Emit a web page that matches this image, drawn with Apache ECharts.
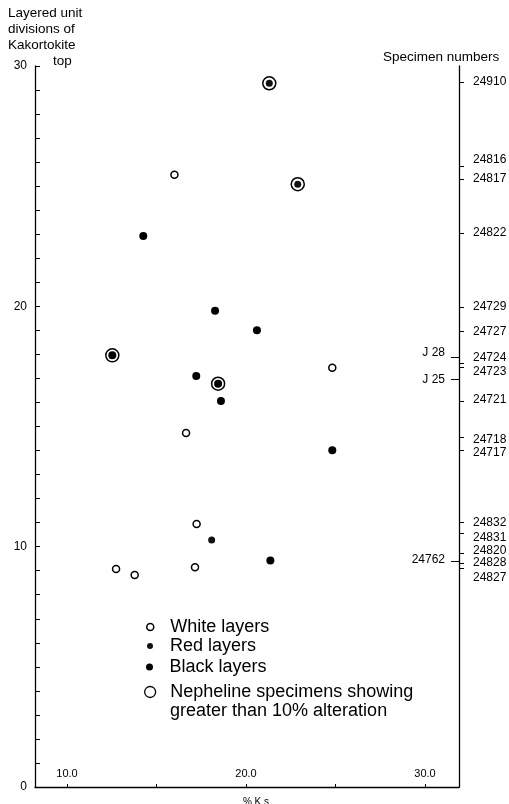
<!DOCTYPE html>
<html>
<head>
<meta charset="utf-8">
<script src="https://cdn.jsdelivr.net/npm/echarts@6/dist/echarts.min.js"></script>
<style>
  html, body { margin: 0; padding: 0; background: #fff; }
  #chart { width: 509px; height: 804px; }
</style>
</head>
<body>
<div id="chart"></div>
<script>
// points are [%Ks, layered unit division]
const whiteLayers = [[16.0, 25.48], [24.82, 17.44], [16.65, 14.73], [17.24, 10.94], [12.74, 9.07], [13.78, 8.82], [17.15, 9.14]]
const redLayers = [[18.08, 10.28], [21.3, 29.28], [22.89, 25.08]]
const blackLayers = [[14.26, 22.93], [18.27, 19.82], [20.61, 19.0], [17.22, 17.1], [18.6, 16.06], [24.82, 14.01], [21.36, 9.42], [12.53, 17.96], [18.44, 16.78]]
const nephelineAltered = [[21.3, 29.28], [22.89, 25.08], [12.53, 17.96], [18.44, 16.78]]

const leftLabels = [0, 10, 20, 30]
const xLabels = [10, 20, 30]
const xTicks = [10, 15, 20, 25, 30]

// specimen numbers on the right hand axis
const specimenNames = ['24910', '24816', '24817', '24822', '24729', '24727', '24724', '24723', '24721', '24718', '24717', '24832', '24831', '24820', '24828', '24827']
const specimenAt = [29.34, 26.09, 25.3, 23.05, 19.98, 18.95, 17.85, 17.27, 16.1, 14.44, 13.91, 10.99, 10.36, 9.82, 9.33, 8.71]
const specimenTicks = [29.34, 25.84, 25.3, 23.05, 19.95, 18.95, 17.64, 17.48, 16.06, 14.55, 14.01, 11.02, 10.56, 9.73, 9.33, 9.1]
const innerNames = ['J 28', 'J 25', '24762']
const innerAt = [18.07, 16.94, 9.45]
const innerTicks = [17.88, 16.98, 9.4]

const nephelineName = 'Nepheline specimens showing\ngreater than 10% alteration'

const font = 'Liberation Sans, Arial, sans-serif'
const ink = '#000'

const chart = echarts.init(document.getElementById('chart'), null, { renderer: 'canvas' })

function legendBox(name, left, top, size, style) {
  return {
    show: true,
    data: [{ name: name, icon: 'circle' }],
    left: left,
    top: top,
    padding: 0,
    itemWidth: 30,
    itemHeight: size,
    selectedMode: false,
    itemStyle: style,
    // only the first line sits beside the icon, the second one is drawn below
    formatter: n => n.split('\n')[0],
    textStyle: { fontFamily: font, fontSize: 18, color: ink, lineHeight: 20 }
  }
}

const option = {
  animation: false,
  backgroundColor: '#fff',
  textStyle: { fontFamily: font },
  grid: {
    left: 35,
    right: 50,
    top: 66,
    bottom: 17,
    containLabel: false,
    outerBoundsMode: 'none'
  },
  legend: [
    legendBox('White layers', 146, 617, 7, { color: '#fff', borderColor: ink, borderWidth: 1.5 }),
    legendBox('Red layers', 147, 636, 6, { color: '#111', borderColor: ink, borderWidth: 0 }),
    legendBox('Black layers', 146, 657, 7, { color: ink, borderColor: ink, borderWidth: 0 }),
    legendBox(nephelineName, 144, 682, 11, { color: 'rgba(0,0,0,0)', borderColor: ink, borderWidth: 1.3 })
  ],
  xAxis: {
    type: 'value',
    min: 8.21,
    max: 31.9,
    name: '% K s',
    nameLocation: 'middle',
    nameGap: 10,
    nameTextStyle: { fontSize: 10, color: ink, padding: [0, 0, 0, 18] },
    axisLine: { onZero: false, lineStyle: { color: ink, width: 1.3 } },
    axisTick: { customValues: xTicks, inside: true, length: 3, lineStyle: { color: ink } },
    axisLabel: {
      customValues: xLabels,
      inside: true,
      margin: 8,
      fontSize: 11,
      color: ink,
      formatter: v => v.toFixed(1)
    },
    splitLine: { show: false }
  },
  yAxis: [
    {
      type: 'value',
      min: 0,
      max: 30,
      interval: 1,
      axisLine: { show: true, lineStyle: { color: ink, width: 1.3 } },
      axisTick: { show: true, inside: true, length: 5, lineStyle: { color: ink } },
      axisLabel: { customValues: leftLabels, margin: 8, fontSize: 12, color: ink },
      splitLine: { show: false }
    },
    {
      type: 'value',
      position: 'right',
      min: 0,
      max: 30,
      axisLine: { show: true, lineStyle: { color: ink, width: 1.3 } },
      axisTick: { show: true, customValues: specimenTicks, length: 5, lineStyle: { color: ink } },
      axisLabel: {
        customValues: specimenAt,
        margin: 14,
        fontSize: 12,
        color: ink,
        formatter: v => specimenNames[specimenAt.indexOf(v)] || ''
      },
      splitLine: { show: false }
    },
    {
      type: 'value',
      position: 'right',
      min: 0,
      max: 30,
      axisLine: { show: false },
      axisTick: { show: true, inside: true, customValues: innerTicks, length: 8, lineStyle: { color: ink } },
      axisLabel: {
        customValues: innerAt,
        inside: true,
        margin: 14,
        fontSize: 12,
        color: ink,
        formatter: v => innerNames[innerAt.indexOf(v)] || ''
      },
      splitLine: { show: false }
    }
  ],
  graphic: [
    {
      type: 'text', left: 8, top: 5,
      style: { text: 'Layered unit\ndivisions of\nKakortokite', font: '13.5px ' + font, fill: ink, lineHeight: 16 }
    },
    {
      type: 'text', left: 53, top: 54,
      style: { text: 'top', font: '13.5px ' + font, fill: ink }
    },
    {
      type: 'text', left: 383, top: 50,
      style: { text: 'Specimen numbers', font: '13.5px ' + font, fill: ink }
    },
    {
      type: 'text', left: 170, top: 702,
      style: { text: nephelineName.split('\n')[1], font: '18px ' + font, fill: ink }
    }
  ],
  series: [
    {
      name: 'White layers',
      type: 'scatter',
      data: whiteLayers,
      symbol: 'circle',
      symbolSize: 7,
      itemStyle: { color: '#fff', borderColor: ink, borderWidth: 1.5, opacity: 1 },
      z: 3
    },
    {
      name: 'Red layers',
      type: 'scatter',
      data: redLayers,
      symbol: 'circle',
      symbolSize: 7,
      itemStyle: { color: '#111', opacity: 1 },
      z: 3
    },
    {
      name: 'Black layers',
      type: 'scatter',
      data: blackLayers,
      symbol: 'circle',
      symbolSize: 8,
      itemStyle: { color: ink, opacity: 1 },
      z: 3
    },
    {
      name: nephelineName,
      type: 'scatter',
      data: nephelineAltered,
      symbol: 'circle',
      symbolSize: 13,
      itemStyle: { color: 'rgba(0,0,0,0)', borderColor: ink, borderWidth: 1.5, opacity: 1 },
      z: 4
    }
  ]
}

chart.setOption(option)
</script>
</body>
</html>
